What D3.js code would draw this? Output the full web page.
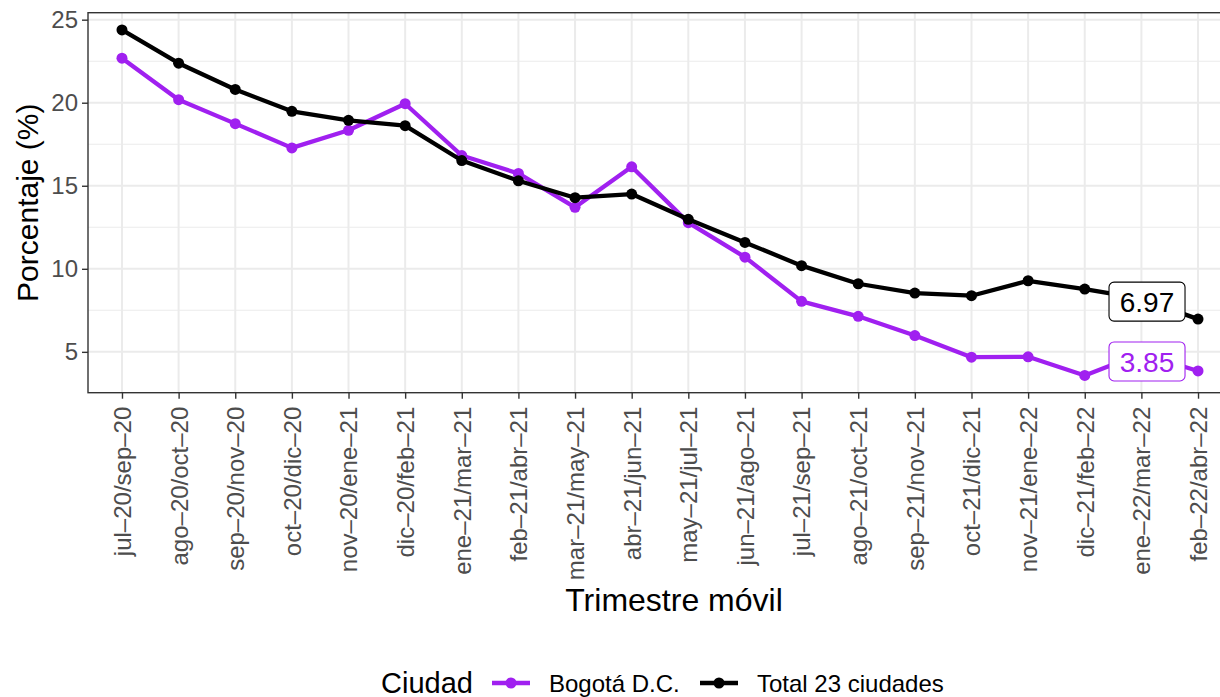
<!DOCTYPE html>
<html>
<head>
<meta charset="utf-8">
<script src="https://cdn.jsdelivr.net/npm/d3@7"></script>
<style>
  body { margin: 0; background: #fff; }
  text { font-family: "Liberation Sans", Arial, sans-serif; }
</style>
</head>
<body>
<div id="chart"></div>
<script>
var categorias = ['jul–20/sep–20', 'ago–20/oct–20', 'sep–20/nov–20', 'oct–20/dic–20', 'nov–20/ene–21',
    'dic–20/feb–21', 'ene–21/mar–21', 'feb–21/abr–21', 'mar–21/may–21', 'abr–21/jun–21',
    'may–21/jul–21', 'jun–21/ago–21', 'jul–21/sep–21', 'ago–21/oct–21', 'sep–21/nov–21',
    'oct–21/dic–21', 'nov–21/ene–22', 'dic–21/feb–22', 'ene–22/mar–22', 'feb–22/abr–22'];
var bogota = [22.68, 20.18, 18.74, 17.28, 18.34, 19.94, 16.82, 15.74, 13.70, 16.14,
    12.78, 10.70, 8.04, 7.14, 5.98, 4.68, 4.70, 3.58, 4.90, 3.85];
var total = [24.38, 22.38, 20.80, 19.48, 18.94, 18.62, 16.52, 15.30, 14.28, 14.50,
    12.98, 11.59, 10.19, 9.10, 8.54, 8.38, 9.28, 8.78, 8.20, 6.97];
var yTicks = [5, 10, 15, 20, 25];
var series = [
    { name: 'Bogotá D.C.', color: '#A020F0', values: bogota, labelDy: -9.5 },
    { name: 'Total 23 ciudades', color: '#000000', values: total, labelDy: -17.5 }
];

var width = 1220, height = 697;
var pLeft = 88, pRight = 1232, pTop = 12.7, pBottom = 392.7;

var svg = d3.select('#chart').append('svg')
    .attr('width', width)
    .attr('height', height);

var x = d3.scalePoint().domain(categorias).range([pLeft, pRight]).padding(0.6);

var allVals = bogota.concat(total);
var yMin = d3.min(allVals), yMax = d3.max(allVals);
var pad = (yMax - yMin) * 0.05;
var y = d3.scaleLinear().domain([yMin - pad, yMax + pad]).range([pBottom, pTop]);

// grid
var grid = svg.append('g');
var minor = d3.range(2.5, 27.5, 5).filter(v => v > y.domain()[0] && v < y.domain()[1]);
grid.selectAll('.minor').data(minor).enter().append('line')
    .attr('x1', pLeft).attr('x2', pRight)
    .attr('y1', d => y(d)).attr('y2', d => y(d))
    .attr('stroke', '#EBEBEB').attr('stroke-width', 1.1);
grid.selectAll('.majorY').data(yTicks).enter().append('line')
    .attr('x1', pLeft).attr('x2', pRight)
    .attr('y1', d => y(d)).attr('y2', d => y(d))
    .attr('stroke', '#EBEBEB').attr('stroke-width', 2);
grid.selectAll('.majorX').data(categorias).enter().append('line')
    .attr('x1', d => x(d)).attr('x2', d => x(d))
    .attr('y1', pTop).attr('y2', pBottom)
    .attr('stroke', '#EBEBEB').attr('stroke-width', 2);

// lines and points
var line = d3.line().x((d, i) => x(categorias[i])).y(d => y(d));

series.forEach(s => {
    var g = svg.append('g');
    g.append('path').datum(s.values)
        .attr('d', line)
        .attr('fill', 'none')
        .attr('stroke', s.color)
        .attr('stroke-width', 4.3)
        .attr('stroke-linejoin', 'round');
    g.selectAll('circle').data(s.values).enter().append('circle')
        .attr('cx', (d, i) => x(categorias[i]))
        .attr('cy', d => y(d))
        .attr('r', 5.5)
        .attr('fill', s.color);
});

// end labels (repelled to the left of last point)
series.forEach(s => {
    var last = s.values.length - 1;
    var cx = x(categorias[last]) - 51;
    var cy = y(s.values[last]) + s.labelDy;
    var lab = svg.append('g').attr('transform', `translate(${cx},${cy})`);
    lab.append('rect')
        .attr('x', -38).attr('y', -19.5)
        .attr('width', 76).attr('height', 39)
        .attr('rx', 5).attr('ry', 5)
        .attr('fill', '#fff')
        .attr('stroke', s.color)
        .attr('stroke-width', 1.1);
    lab.append('text')
        .attr('text-anchor', 'middle')
        .attr('dy', '0.36em')
        .attr('font-size', 28)
        .attr('fill', s.color)
        .text(s.values[last].toFixed(2));
});

// panel border
svg.append('rect')
    .attr('x', pLeft).attr('y', pTop)
    .attr('width', pRight - pLeft).attr('height', pBottom - pTop)
    .attr('fill', 'none')
    .attr('stroke', '#333333')
    .attr('stroke-width', 1.4);

// axes
var yAxis = svg.append('g').attr('transform', `translate(${pLeft},0)`)
    .call(d3.axisLeft(y).tickValues(yTicks).tickSize(6).tickPadding(4));
var xAxis = svg.append('g').attr('transform', `translate(0,${pBottom})`)
    .call(d3.axisBottom(x).tickSize(6));

[yAxis, xAxis].forEach(a => {
    a.select('.domain').remove();
    a.selectAll('line').attr('stroke', '#333333').attr('stroke-width', 1.4);
    a.selectAll('text').attr('fill', '#4D4D4D').attr('font-size', 24)
        .attr('font-family', '"Liberation Sans", Arial, sans-serif');
});

xAxis.selectAll('text')
    .attr('transform', 'rotate(-90)')
    .attr('text-anchor', 'end')
    .attr('x', -14)
    .attr('y', 0)
    .attr('dy', '0.35em');

// axis titles
svg.append('text')
    .attr('transform', `translate(38,${(pTop + pBottom) / 2})rotate(-90)`)
    .attr('text-anchor', 'middle')
    .attr('font-size', 30)
    .text('Porcentaje (%)');

svg.append('text')
    .attr('x', 674)
    .attr('y', 611)
    .attr('text-anchor', 'middle')
    .attr('font-size', 32)
    .text('Trimestre móvil');

// legend
var legend = svg.append('g').attr('transform', 'translate(0,683)');
legend.append('text').attr('x', 381).attr('dy', '0.36em')
    .attr('font-size', 29).text('Ciudad');
var keyX = [492, 700];
series.forEach((s, i) => {
    var k = legend.append('g').attr('transform', `translate(${keyX[i]},0)`);
    k.append('line').attr('x1', 0).attr('x2', 38)
        .attr('stroke', s.color).attr('stroke-width', 4.3);
    k.append('circle').attr('cx', 19).attr('r', 5.5).attr('fill', s.color);
    k.append('text').attr('x', 57).attr('dy', '0.36em')
        .attr('font-size', 24).text(s.name);
});
</script>
</body>
</html>
